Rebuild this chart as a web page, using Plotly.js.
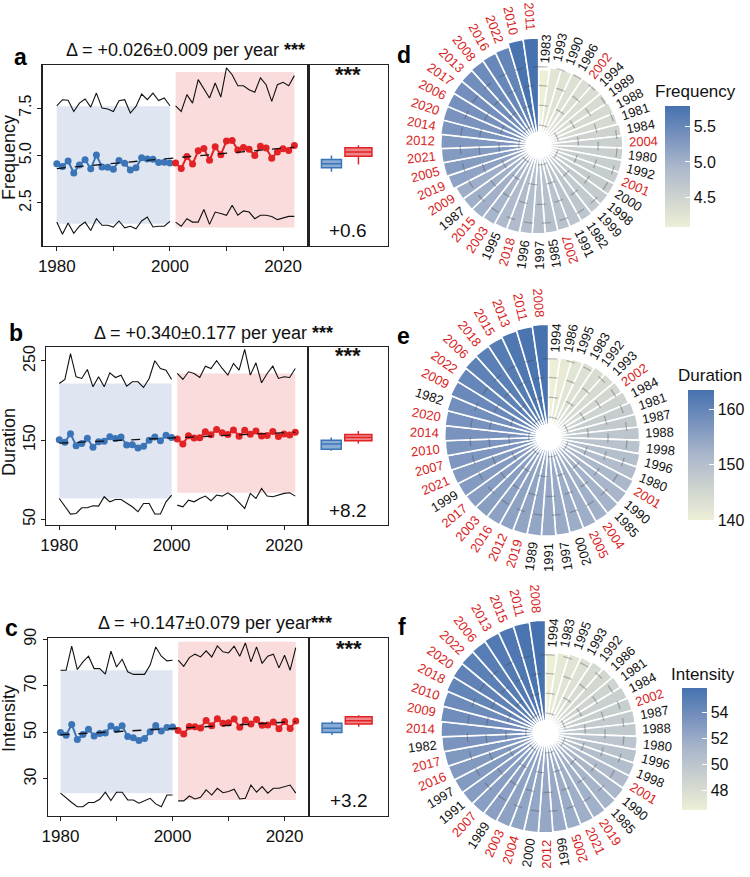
<!DOCTYPE html>
<html><head><meta charset="utf-8">
<script src="https://cdn.plot.ly/plotly-3.0.1.min.js"></script>
<style>body{margin:0;background:#fff}#chart{width:750px;height:877px}</style>
</head><body><div id="chart"></div>
<script>
const W = 750, H = 877;
const FONT = 'Liberation Sans, Arial, Helvetica, sans-serif';
const BLUE = '#3B75B8', RED = '#E22326', LABRED = '#D81E24';

// ---------------- data ----------------
const years = [1980,1981,1982,1983,1984,1985,1986,1987,1988,1989,1990,1991,1992,1993,1994,1995,1996,1997,1998,1999,2000,
               2001,2002,2003,2004,2005,2006,2007,2008,2009,2010,2011,2012,2013,2014,2015,2016,2017,2018,2019,2020,2021,2022];

const freqMean  = [4.57,4.42,4.71,4.08,4.50,4.78,4.30,5.02,4.40,4.38,4.27,4.73,4.59,4.24,4.35,4.88,4.82,4.80,4.63,4.65,4.61,
                   4.60,4.32,4.95,4.55,5.25,5.37,4.75,5.46,5.04,5.76,5.79,5.29,5.42,5.33,5.00,5.49,5.40,4.86,5.18,5.35,5.27,5.53];
const freqUpper = [7.62,7.94,7.91,7.32,7.76,7.98,7.55,8.29,7.50,7.45,7.32,7.89,7.94,7.24,7.59,8.24,7.94,8.29,7.90,8.03,7.62,
                   7.62,7.32,8.21,7.76,9.00,8.50,8.03,8.82,8.08,9.62,9.26,8.68,8.68,8.47,8.33,9.09,8.73,7.85,8.73,8.86,8.68,9.21];
const freqLower = [1.49,0.85,1.44,0.90,1.27,1.49,1.05,1.67,1.32,1.32,1.23,1.55,1.19,1.27,1.14,1.55,1.76,1.23,1.27,1.27,1.53,
                   1.49,1.27,1.67,1.49,1.49,2.15,1.37,2.02,1.94,1.85,2.38,1.85,2.08,2.02,1.67,1.85,1.85,1.79,1.62,1.72,1.79,1.79];
const freqBand  = [1.4, 7.6, 1.2, 9.4];            // blue low, blue high, red low, red high
const freqBoxBlue = [4.14, 4.35, 4.56, 4.79, 5.00]; // lower whisker, q1, median, q3, upper whisker
const freqBoxRed  = [4.52, 4.96, 5.18, 5.41, 5.54];

const durMean  = [150.5,147.2,158.2,143.0,145.8,152.4,141.0,147.8,148.5,154.4,152.0,154.1,143.8,144.3,140.0,142.2,150.0,153.8,149.2,156.2,153.4,
                  151.5,145.0,155.6,152.8,153.1,160.6,156.8,163.5,159.3,157.1,162.9,155.0,162.4,157.4,161.6,155.3,155.9,161.0,154.7,157.7,156.5,159.8];
const durUpper = [221.5,226.6,259.4,230.0,227.9,239.2,217.3,230.0,217.3,235.0,229.1,232.0,218.2,223.7,223.7,216.5,227.9,250.2,240.5,238.4,226.6,
                  234.2,226.6,236.3,234.2,229.1,243.4,240.5,250.2,240.5,232.1,246.8,238.4,264.5,232.1,247.6,222.4,234.2,243.4,227.9,230.0,229.1,240.5];
const durLower = [76.3,67.1,56.6,57.4,64.6,64.6,67.1,66.7,78.5,72.1,75.1,75.1,70.9,65.8,59.5,70.0,70.0,56.6,56.6,72.1,80.6,
                  67.9,65.8,74.2,72.1,76.3,79.3,73.4,80.6,79.3,83.5,78.5,70.9,63.7,82.7,76.3,89.0,79.3,78.5,80.6,82.7,83.5,79.3];
const durBand  = [76.4, 221.6, 83.5, 234.2];
const durBoxBlue = [136.5, 138.6, 145.0, 150.0, 153.4];
const durBoxRed  = [145.8, 149.1, 153.2, 157.2, 161.4];

const intMean  = [50.0,48.8,53.4,47.0,49.1,51.4,48.5,49.5,49.7,52.7,51.2,52.9,48.2,47.7,46.5,47.4,50.3,53.0,50.6,52.1,52.3,
                  50.8,49.3,52.5,52.4,51.9,55.1,52.8,55.9,53.9,54.1,55.7,52.2,55.3,53.6,55.5,53.1,53.2,54.5,51.6,54.7,51.7,54.9];
const intUpper = [76.7,76.7,87.0,77.0,80.3,82.7,77.4,77.4,75.0,84.9,78.1,81.4,76.0,74.9,74.9,74.9,78.9,86.7,82.7,80.7,81.0,
                  81.0,78.4,82.1,83.6,82.4,85.0,82.4,87.1,84.6,84.1,87.0,82.7,88.4,80.3,86.7,79.6,82.7,83.6,77.7,83.1,76.7,86.4];
const intLower = [23.9,21.7,19.9,18.1,18.1,19.9,19.9,21.3,24.3,20.7,24.3,24.3,21.0,21.0,19.6,20.6,21.7,19.3,18.1,23.1,23.1,
                  20.6,20.6,22.7,21.4,22.1,25.3,23.1,26.0,24.1,24.6,25.6,21.4,21.7,27.4,24.3,26.7,23.9,26.0,26.0,26.7,27.4,23.9];
const intBand  = [23.9, 76.7, 21.0, 88.9];
const intBoxBlue = [48.9, 49.9, 51.8, 53.9, 54.9];
const intBoxRed  = [52.4, 53.6, 55.0, 56.7, 57.4];

const trendTitles = ['Δ = +0.026±0.009 per year <b>***</b>', 'Δ = +0.340±0.177 per year <b>***</b>', 'Δ = +0.147±0.079 per year<b>***</b>'];
const diffLabels  = ['+0.6', '+8.2', '+3.2'];
const varNames    = ['Frequency', 'Duration', 'Intensity'];
const panelLetters = ['a','b','c','d','e','f'];

// ---------------- layout geometry (pixels) ----------------
const tsGeo = [
  {l:43,   r:311,   rb:391, t:65,    b:246, xr:[1977.5,2024.5],  yr:[0.23,9.77],  tv:[2.5,5,7.5], tt:['2.5','5.0','7.5'],
   titleX:65, titleY:50, ylabY:157, star:75, diff:230},
  {l:46.7, r:310.7, rb:391, t:346.7, b:525, xr:[1977.7,2024.3],  yr:[42.8,268],   tv:[50,150,250], tt:['50','150','250'],
   titleX:93, titleY:333, ylabY:442, star:355, diff:510},
  {l:48.3, r:311.7, rb:391, t:638.3, b:816, xr:[1977.75,2024.4], yr:[14.1,90.4],  tv:[30,50,70,90], tt:['30','50','70','90'],
   titleX:97, titleY:623, ylabY:718, star:648, diff:800}
];
const polarGeo = [
  {cx:543, cy:145, k:18.65, v0:0,    cbx:670, cbt:106,   cbl:121, cbw:25, cbtv:[4.5,5,5.5],   cbtt:['4.5','5.0','5.5'], tX:658, tY:92},
  {cx:553, cy:437, k:1.464, v0:85.9, cbx:694, cbt:390,   cbl:130, cbw:26, cbtv:[140,150,160], cbtt:['140','150','160'], tX:681, tY:376},
  {cx:550, cy:733, k:3.553, v0:23.9, cbx:687, cbt:687.7, cbl:122, cbw:25, cbtv:[48,50,52,54], cbtt:['48','50','52','54'], tX:674, tY:674}
];
const letterPos = [[21,57],[16,333],[12,628],[407,55],[407,336],[405,627]];
const RD = 140;          // polar drawing radius in px
const gridPx = [20, 40, 60, 79];
const BAR_CS = [[0,'#EDEFD7'],[0.25,'#CDD3CF'],[0.5,'#AAB7CB'],[0.75,'#7892BE'],[1,'#4672AF']];

const means  = [freqMean, durMean, intMean];
const uppers = [freqUpper, durUpper, intUpper];
const lowers = [freqLower, durLower, intLower];
const bands  = [freqBand, durBand, intBand];
const boxesB = [freqBoxBlue, durBoxBlue, intBoxBlue];
const boxesR = [freqBoxRed, durBoxRed, intBoxRed];

const px = p => p / W;
const py = p => 1 - p / H;
const iB = years.map((y,i)=> y<=2000 ? i : -1).filter(i=>i>=0);
const iR = years.map((y,i)=> y>2000 ? i : -1).filter(i=>i>=0);
const pick = (arr, idx) => idx.map(i=>arr[i]);

const traces = [];
const layout = {
  width: W, height: H, margin: {l:0,r:0,t:0,b:0},
  paper_bgcolor: '#ffffff', plot_bgcolor: 'rgba(0,0,0,0)',
  showlegend: false, font: {family: FONT, color: '#111'},
  shapes: [], annotations: []
};
const axKey = (p, n) => p + 'axis' + (n === 1 ? '' : n);
const axRef = (p, n) => p + (n === 1 ? '' : n);

// ---------------- time-series panels ----------------
for (let k = 0; k < 3; k++) {
  const g = tsGeo[k];
  const nMain = 2*k + 1, nBox = 2*k + 2;
  const xm = axRef('x', nMain), ym = axRef('y', nMain), xb = axRef('x', nBox), yb = axRef('y', nBox);
  const dom = [py(g.b), py(g.t)];
  const lineAx = {showline:true, linecolor:'#222', linewidth:1.2, mirror:true, showgrid:false, zeroline:false, fixedrange:true};
  layout[axKey('x', nMain)] = Object.assign({}, lineAx, {domain:[px(g.l), px(g.r)], anchor: ym, range: g.xr,
    tickmode:'array', tickvals:[1980,1990,2000,2010,2020], ticktext:['1980','','2000','','2020'],
    ticks:'outside', ticklen:4, tickcolor:'#222', tickfont:{size:17, family:FONT, color:'#111'}});
  layout[axKey('y', nMain)] = Object.assign({}, lineAx, {domain: dom, anchor: xm, range: g.yr,
    tickmode:'array', tickvals:g.tv, ticktext:g.tt, tickangle:-90,
    ticks:'outside', ticklen:4, tickcolor:'#222', tickfont:{size:16, family:FONT, color:'#111'}});
  layout[axKey('x', nBox)] = Object.assign({}, lineAx, {domain:[px(g.r), px(g.rb)], anchor: yb, range:[0.15,3.09],
    showticklabels:false, ticks:''});
  layout[axKey('y', nBox)] = Object.assign({}, lineAx, {domain: dom, anchor: xb, range: g.yr,
    showticklabels:false, ticks:''});

  const m = means[k], up = uppers[k], lo = lowers[k], bd = bands[k];
  // shaded periods
  layout.shapes.push({type:'rect', xref:xm, yref:ym, layer:'below', line:{width:0}, fillcolor:'#DFE6F1',
    x0: years[iB[0]], x1: years[iB[iB.length-1]], y0: bd[0], y1: bd[1]});
  layout.shapes.push({type:'rect', xref:xm, yref:ym, layer:'below', line:{width:0}, fillcolor:'#F9DCDB',
    x0: years[iR[0]], x1: years[iR[iR.length-1]], y0: bd[2], y1: bd[3]});
  // envelopes
  [[iB],[iR]].forEach(([idx]) => {
    [up, lo].forEach(arr => traces.push({type:'scatter', mode:'lines', x: pick(years, idx), y: pick(arr, idx),
      xaxis: xm, yaxis: ym, line:{color:'#111', width:1.1}, hoverinfo:'skip'}));
  });
  // trend (least squares on all years)
  const n = years.length;
  const mx = years.reduce((a,b)=>a+b,0)/n, my = m.reduce((a,b)=>a+b,0)/n;
  let sxy = 0, sxx = 0;
  years.forEach((y,i)=>{ sxy += (y-mx)*(m[i]-my); sxx += (y-mx)*(y-mx); });
  const slope = sxy/sxx, icp = my - slope*mx;
  const xEnds = [years[0], years[n-1]];
  // mean series
  traces.push({type:'scatter', mode:'lines+markers', x: pick(years, iB), y: pick(m, iB), xaxis: xm, yaxis: ym,
    line:{color:BLUE, width:2}, marker:{color:BLUE, size:7}, hoverinfo:'x+y'});
  traces.push({type:'scatter', mode:'lines+markers', x: pick(years, iR), y: pick(m, iR), xaxis: xm, yaxis: ym,
    line:{color:RED, width:2}, marker:{color:RED, size:7}, hoverinfo:'x+y'});
  traces.push({type:'scatter', mode:'lines', x: xEnds, y: xEnds.map(x=>icp+slope*x), xaxis: xm, yaxis: ym,
    line:{color:'#111', width:1.3, dash:'dash'}, hoverinfo:'skip'});
  // boxes
  const bb = boxesB[k], br = boxesR[k];
  traces.push({type:'box', x:[1], lowerfence:[bb[0]], q1:[bb[1]], median:[bb[2]], q3:[bb[3]], upperfence:[bb[4]],
    width:0.74, whiskerwidth:0, fillcolor:'rgba(59,117,184,0.6)', line:{color:BLUE, width:1.5},
    xaxis: xb, yaxis: yb, boxpoints:false, hoverinfo:'skip'});
  traces.push({type:'box', x:[2], lowerfence:[br[0]], q1:[br[1]], median:[br[2]], q3:[br[3]], upperfence:[br[4]],
    width:1.0, whiskerwidth:0, fillcolor:'rgba(226,35,38,0.55)', line:{color:RED, width:1.5},
    xaxis: xb, yaxis: yb, boxpoints:false, hoverinfo:'skip'});
  // texts
  layout.annotations.push({xref:'paper', yref:'paper', x: px(g.titleX), y: py(g.titleY), xanchor:'left', yanchor:'middle',
    text: trendTitles[k], showarrow:false, font:{size:18, family:FONT, color:'#111'}});
  layout.annotations.push({xref:'paper', yref:'paper', x: px(9), y: py(g.ylabY), xanchor:'center', yanchor:'middle',
    text: varNames[k], textangle:-90, showarrow:false, font:{size:18, family:FONT, color:'#111'}});
  layout.annotations.push({xref:'paper', yref:'paper', x: px((g.r+g.rb)/2), y: py(g.star), xanchor:'center', yanchor:'middle',
    text: '<b>***</b>', showarrow:false, font:{size:22, family:FONT, color:'#111'}});
  layout.annotations.push({xref:'paper', yref:'paper', x: px((g.r+g.rb)/2), y: py(g.diff), xanchor:'center', yanchor:'middle',
    text: diffLabels[k], showarrow:false, font:{size:19, family:FONT, color:'#111'}});
}

// ---------------- polar panels ----------------
const circTheta = Array.from({length:91}, (_,i)=> i*4);
for (let k = 0; k < 3; k++) {
  const g = polarGeo[k];
  const pKey = k === 0 ? 'polar' : 'polar' + (k+1);
  const dx = [px(g.cx - RD), px(g.cx + RD)], dy = [py(g.cy + RD), py(g.cy - RD)];
  const Rmax = RD / g.k;
  layout[pKey] = {domain:{x:dx, y:dy}, bgcolor:'rgba(0,0,0,0)', hole:0,
    radialaxis:{visible:false, range:[0, Rmax]},
    angularaxis:{visible:false, direction:'clockwise', rotation:90, showgrid:false}};
  const vals = means[k];
  const order = years.map((_,i)=>i).sort((a,b)=> vals[a]-vals[b]);
  const n = order.length, dTh = 360/n;
  const sv = order.map(i=>vals[i]);
  const th = order.map((_,j)=> (j+0.5)*dTh);
  traces.push({type:'barpolar', subplot:pKey, r: sv.map(v=> v - g.v0), theta: th, width: sv.map(()=>dTh),
    marker:{color: sv, colorscale: BAR_CS, line:{color:'#ffffff', width:1.6}, showscale:true,
      colorbar:{x: px(g.cbx), xanchor:'left', y: py(g.cbt), yanchor:'top', len: g.cbl, lenmode:'pixels',
        thickness: g.cbw, thicknessmode:'pixels', xpad:0, ypad:0, outlinewidth:0,
        ticks:'inside', ticklen:5, tickcolor:'#ffffff', tickwidth:1,
        tickmode:'array', tickvals: g.cbtv, ticktext: g.cbtt,
        tickfont:{size:16, family:FONT, color:'#111'}, title:{text:''}}},
    hoverinfo:'skip'});
  // white hub
  traces.push({type:'scatterpolar', subplot:pKey, mode:'markers', r:[0], theta:[0],
    marker:{color:'#ffffff', size:26}, hoverinfo:'skip'});
  // dashed reference circles over the bars
  gridPx.forEach(gp => traces.push({type:'scatterpolar', subplot:pKey, mode:'lines',
    r: circTheta.map(()=> gp / g.k), theta: circTheta,
    line:{color:'rgba(70,70,70,0.35)', width:1.3, dash:'dash'}, hoverinfo:'skip'}));
  // overlay axes for the radial year labels
  const nAx = 7 + k;
  layout[axKey('x', nAx)] = {domain: dx, range:[-Rmax, Rmax], visible:false, fixedrange:true, anchor: axRef('y', nAx)};
  layout[axKey('y', nAx)] = {domain: dy, range:[-Rmax, Rmax], visible:false, fixedrange:true, anchor: axRef('x', nAx)};
  order.forEach((yi, j) => {
    const thd = th[j], t = thd * Math.PI / 180;
    const rr = (sv[j] - g.v0) + 20.5 / g.k;
    const ang = (thd < 160) ? thd - 90 : thd - 270;
    layout.annotations.push({xref: axRef('x', nAx), yref: axRef('y', nAx), x: rr*Math.sin(t), y: rr*Math.cos(t),
      xanchor:'center', yanchor:'middle', showarrow:false, textangle: ang, text: String(years[yi]),
      font:{size:13, family:FONT, color: years[yi] > 2000 ? LABRED : '#111'}});
  });
  layout.annotations.push({xref:'paper', yref:'paper', x: px(g.tX), y: py(g.tY), xanchor:'left', yanchor:'middle',
    text: varNames[k], showarrow:false, font:{size:17, family:FONT, color:'#111'}});
}

// panel letters
panelLetters.forEach((L, i) => layout.annotations.push({xref:'paper', yref:'paper', x: px(letterPos[i][0]), y: py(letterPos[i][1]),
  xanchor:'center', yanchor:'middle', text:'<b>'+L+'</b>', showarrow:false, font:{size:23, family:FONT, color:'#000'}}));

Plotly.newPlot('chart', traces, layout, {staticPlot:true, displayModeBar:false});
</script>
</body></html>
